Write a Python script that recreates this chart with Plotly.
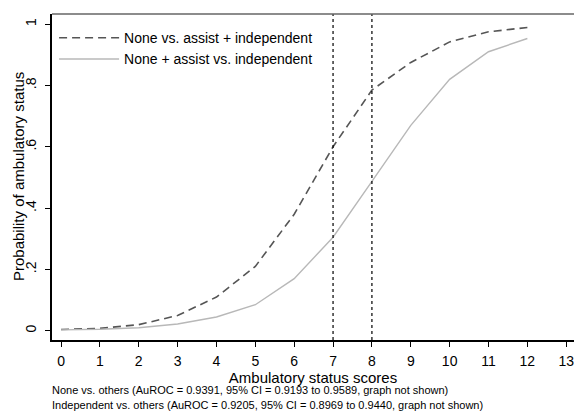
import plotly.graph_objects as go

scores = [0, 1, 2, 3, 4, 5, 6, 7, 8, 9, 10, 11, 12]
none_vs_rest = [0.004, 0.008, 0.02, 0.05, 0.11, 0.21, 0.38, 0.60, 0.785, 0.875, 0.942, 0.975, 0.989]
rest_vs_indep = [0.003, 0.005, 0.01, 0.022, 0.045, 0.085, 0.17, 0.305, 0.487, 0.67, 0.82, 0.91, 0.953]
cutoffs = [7, 8]
x_ticks = list(range(0, 14))
y_ticks = [0, 0.2, 0.4, 0.6, 0.8, 1]
y_ticktext = ["0", ".2", ".4", ".6", ".8", "1"]
series_names = ["None vs. assist + independent", "None + assist vs. independent"]
y_title = "Probability of ambulatory status"
footnotes = [
    "None vs. others (AuROC = 0.9391, 95% CI = 0.9193 to 0.9589, graph not shown)",
    "Independent vs. others (AuROC = 0.9205, 95% CI = 0.8969 to 0.9440, graph not shown)",
]

FONT = "Liberation Sans, Arial, sans-serif"

fig = go.Figure()
fig.add_trace(go.Scatter(x=scores, y=none_vs_rest, mode="lines", name=series_names[0],
                         line=dict(color="#555555", width=1.6, dash="8px,5px")))
fig.add_trace(go.Scatter(x=scores, y=rest_vs_indep, mode="lines", name=series_names[1],
                         line=dict(color="#b8b8b8", width=1.4)))

for c in cutoffs:
    fig.add_shape(type="line", x0=c, x1=c, y0=0, y1=1, xref="x", yref="paper",
                  line=dict(color="black", width=1.2, dash="dot"))

# top frame line (grey)
fig.add_shape(type="line", x0=0, x1=1, y0=1, y1=1, xref="paper", yref="paper",
              line=dict(color="#666666", width=1.6))

for i, t in enumerate(footnotes):
    fig.add_annotation(text=t, xref="paper", yref="paper", x=-0.004, y=-(50 + 15 * i) / 326,
                       xanchor="left", yanchor="middle", showarrow=False,
                       font=dict(size=11, color="black", family=FONT))

fig.add_annotation(text=y_title, xref="paper", yref="paper", x=-34 / 522, y=0.5,
                   xanchor="center", yanchor="middle", textangle=-90, showarrow=False,
                   font=dict(size=15, color="black", family=FONT))

fig.update_layout(
    width=574, height=412,
    margin=dict(l=52, r=0, t=14, b=72, autoexpand=False),
    paper_bgcolor="white", plot_bgcolor="white",
    font=dict(family=FONT, color="black"),
    showlegend=True,
    legend=dict(x=0.004, y=0.975, xanchor="left", yanchor="top", bgcolor="rgba(0,0,0,0)",
                font=dict(size=14, color="black"), itemwidth=60, tracegroupgap=0),
    xaxis=dict(range=[-0.232, 13.2], tickvals=x_ticks, showgrid=False, zeroline=False,
               automargin=False, ticklabeloverflow="allow",
               showline=True, linecolor="black", linewidth=1.5, mirror=False,
               ticks="outside", ticklen=5, tickcolor="black", tickwidth=1,
               tickfont=dict(size=14), ticklabelstandoff=2,
               title=dict(text="Ambulatory status scores", font=dict(size=15), standoff=1)),
    yaxis=dict(range=[-0.030, 1.033], tickvals=y_ticks, ticktext=y_ticktext, tickangle=-90,
               automargin=False,
               showgrid=False, zeroline=False, showline=True, linecolor="black", linewidth=1.5,
               ticks="outside", ticklen=5, tickcolor="black", tickwidth=1,
               tickfont=dict(size=14), ticklabelstandoff=4),
)

fig.write_html("out.html", config={"displayModeBar": False},
               post_script="document.body.style.margin='0px';")
